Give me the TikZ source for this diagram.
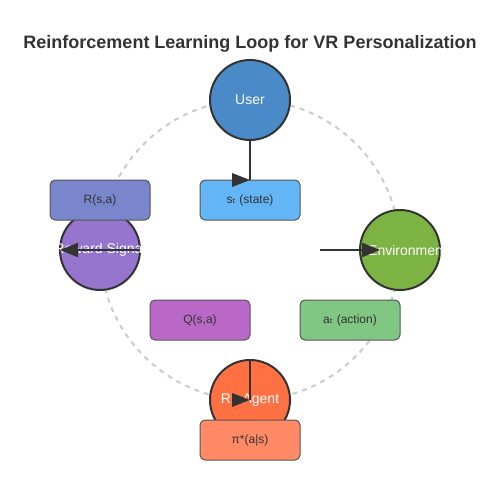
\documentclass[tikz,border=0pt]{standalone}
\usepackage{fontspec}
\setmainfont{Liberation Sans}
\newfontfamily\djv{DejaVu Sans}
\usetikzlibrary{arrows.meta,calc}
\definecolor{ink}{HTML}{333333}
\definecolor{ringc}{HTML}{CCCCCC}
\definecolor{boxline}{HTML}{555555}
\definecolor{userc}{HTML}{4A8AC9}
\definecolor{envc}{HTML}{7CB342}
\definecolor{agentc}{HTML}{FF7043}
\definecolor{rewardc}{HTML}{9575CD}
\definecolor{statec}{HTML}{64B5F6}
\definecolor{actionc}{HTML}{81C784}
\definecolor{qc}{HTML}{BA68C8}
\definecolor{rc}{HTML}{7986CB}
\definecolor{pic}{HTML}{FF8A65}
\begin{document}
\begin{tikzpicture}[x=1pt,y=-1pt,
  bigc/.style={circle,draw=ink,line width=2pt,minimum size=80pt,inner sep=0pt,outer sep=0pt},
  ctext/.style={text=white,font=\fontsize{14}{16}\selectfont,inner sep=0pt},
  lbox/.style={rounded corners=5pt,draw=boxline,line width=1pt,minimum width=100pt,minimum height=40pt,inner sep=0pt,outer sep=0pt,font=\fontsize{12}{14}\selectfont,text=ink},
  conn/.style={draw=ink,line width=2pt},
  tipc/.style={fill=ink},
  bigtip/.style={-{Triangle[length=18pt,width=14pt]}},
  ring/.style={draw=ringc,line width=2pt,dash pattern=on 5pt off 5pt}
]
\useasboundingbox (0,0) rectangle (500,500);
\fill[white] (0,0) rectangle (500,500);

\node[font=\bfseries\fontsize{18}{20}\selectfont,text=ink] (title) at (250,44) {Reinforcement Learning Loop for VR Personalization};

\draw[ring] (250,250) circle[radius=150pt];

% circles
\node[bigc,fill=userc] (user) at (250,100) {};
\node[bigc,fill=envc] (env) at (400,250) {};
\node[bigc,fill=agentc] (agent) at (250,400) {};
\node[bigc,fill=rewardc] (reward) at (100,250) {};

% circle texts (white; invisible where they run onto the white page)
\node[ctext] (usert) at (user.center) {User};
\node[ctext,anchor=west] (envt) at (368,250) {Environment};
\node[ctext] (agentt) at (agent.center) {RL Agent};
\node[ctext] (rewardt) at (reward.center) {Reward Signal};

% boxes
\node[lbox,fill=rc] (rbox) at (100,200) {R(s,a)};
\node[lbox,fill=statec] (state) at (250,200) {s{\djv ₜ} (state)};
\node[lbox,fill=qc] (qbox) at (200,320) {Q(s,a)};
\node[lbox,fill=actionc] (action) at (350,320) {a{\djv ₜ} (action)};
\node[lbox,fill=pic] (policy) at (250,440) {π*(a|s)};

% connectors
\draw[conn] (user.south) -- (state.north);
\fill[tipc] (state.north) -- ++(-18,-7) -- ++(0,14) -- cycle;

\coordinate (actstart) at (320,250);
\coordinate (actend) at (380,250);
\draw[conn,bigtip] (actstart) -- (actend);

\draw[conn,bigtip] (reward.east) -- (reward.west);

\draw[conn] (agent.north) -- (agent.center);
\fill[tipc] (agent.center) -- ++(-18,-7) -- ++(0,14) -- cycle;
\end{tikzpicture}
\end{document}
